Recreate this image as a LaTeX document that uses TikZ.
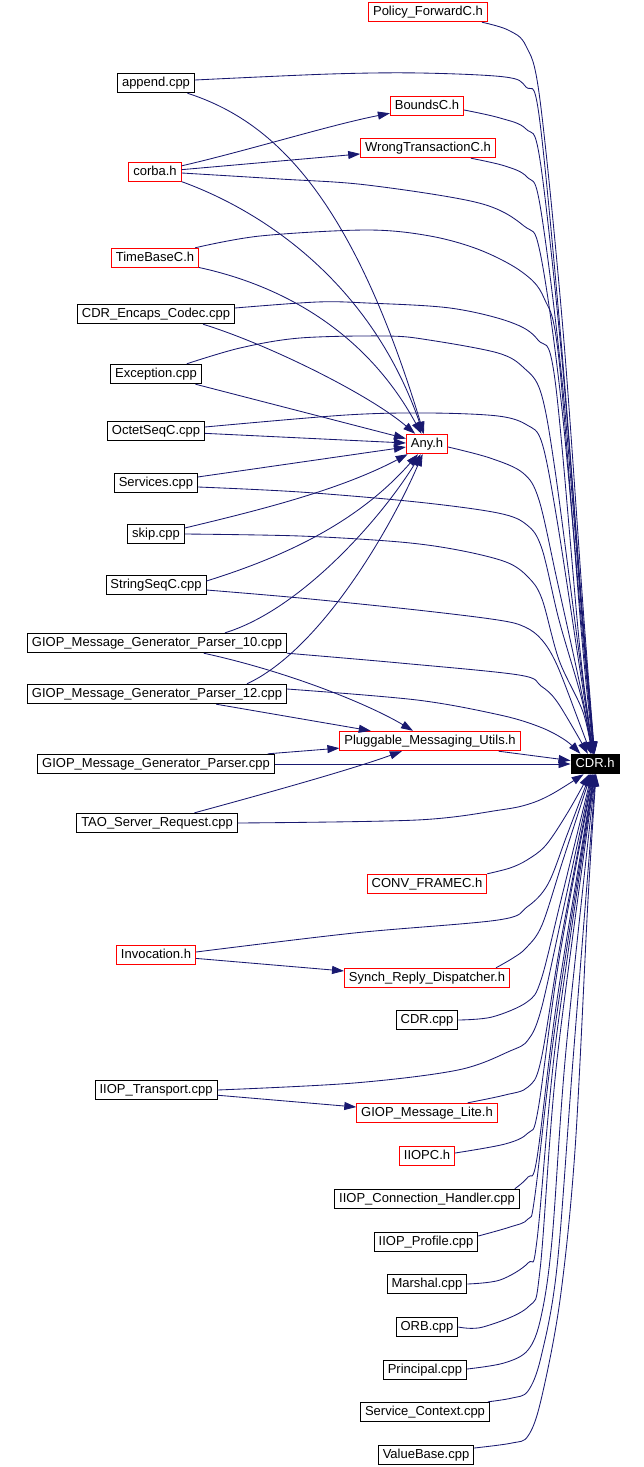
\documentclass[tikz,border=0pt]{standalone}
\usepackage{fontspec}
\setmainfont{Liberation Sans}
\usetikzlibrary{arrows.meta}
\definecolor{edgec}{HTML}{191970}
\begin{document}
\begin{tikzpicture}[x=1pt,y=-1pt,
  box/.style={draw, line width=0.9pt, fill=white, font=\fontsize{13}{15}\selectfont,
    inner xsep=4.5pt, inner ysep=0pt, minimum height=19.5pt, text height=9.6pt, text depth=2.7pt},
  nb/.style={box, draw=black},
  nr/.style={box, draw=red},
  nc/.style={box, draw=black, fill=black, text=white},
  e/.style={draw=edgec, line width=0.85pt, -{Triangle[length=12pt,width=8pt]}},
  sm/.style={smooth, tension=0.55}
  ]
\useasboundingbox (0,0) rectangle (644,1467);

% nodes
\node[nr] (pol) at (428,12) {Policy\_ForwardC.h};
\node[nb] (app) at (156,83) {append.cpp};
\node[nr] (bnd) at (427,106) {BoundsC.h};
\node[nr] (wrg) at (428,148) {WrongTransactionC.h};
\node[nr] (cor) at (155,172) {corba.h};
\node[nr] (tim) at (155,258) {TimeBaseC.h};
\node[nb] (cec) at (156,314) {CDR\_Encaps\_Codec.cpp};
\node[nb] (exc) at (156,374) {Exception.cpp};
\node[nb] (oct) at (156,431) {OctetSeqC.cpp};
\node[nr] (any) at (427,444) {Any.h};
\node[nb] (ser) at (156,483) {Services.cpp};
\node[nb] (skp) at (156,534) {skip.cpp};
\node[nb] (sts) at (156,585) {StringSeqC.cpp};
\node[nb] (g10) at (157,643) {GIOP\_Message\_Generator\_Parser\_10.cpp};
\node[nb] (g12) at (157,694) {GIOP\_Message\_Generator\_Parser\_12.cpp};
\node[nr] (plg) at (430,741) {Pluggable\_Messaging\_Utils.h};
\node[nb] (gmp) at (156,764) {GIOP\_Message\_Generator\_Parser.cpp};
\node[nc] (cdr) at (595,764) {CDR.h};
\node[nb] (tao) at (157,823) {TAO\_Server\_Request.cpp};
\node[nr] (cnv) at (427,884) {CONV\_FRAMEC.h};
\node[nr] (inv) at (156,955) {Invocation.h};
\node[nr] (syn) at (427,978) {Synch\_Reply\_Dispatcher.h};
\node[nb] (ccp) at (427,1020) {CDR.cpp};
\node[nb] (iit) at (156,1090) {IIOP\_Transport.cpp};
\node[nr] (gml) at (427,1113) {GIOP\_Message\_Lite.h};
\node[nr] (iic) at (427,1156) {IIOPC.h};
\node[nb] (ich) at (427,1199) {IIOP\_Connection\_Handler.cpp};
\node[nb] (ipr) at (426,1242) {IIOP\_Profile.cpp};
\node[nb] (mar) at (427,1284) {Marshal.cpp};
\node[nb] (orb) at (427,1327) {ORB.cpp};
\node[nb] (pri) at (425,1370) {Principal.cpp};
\node[nb] (sct) at (425,1412) {Service\_Context.cpp};
\node[nb] (vbs) at (426,1455) {ValueBase.cpp};

% edge start points
\coordinate (pol-o) at ([xshift=-6pt]pol.south east);
\coordinate (app-o) at ([yshift=3pt]app.east);
\coordinate (bnd-o) at ([yshift=-4pt]bnd.east);
\coordinate (wrg-o) at ([xshift=-25pt]wrg.south east);
\coordinate (cor-o) at ([yshift=-1pt]cor.east);
\coordinate (tim-o) at ([xshift=-4pt]tim.north east);
\coordinate (cec-o) at ([yshift=6pt]cec.east);
\coordinate (cec-a) at ([xshift=-32pt]cec.south east);
\coordinate (exc-o) at ([xshift=-15pt]exc.north east);
\coordinate (oct-o) at ([yshift=4pt]oct.east);
\coordinate (any-o) at ([yshift=-3pt]any.east);
\coordinate (ser-o) at ([yshift=-4pt]ser.east);
\coordinate (skp-a) at ([yshift=6pt]skp.east);
\coordinate (sts-o) at ([yshift=-5pt]sts.east);
\coordinate (sts-a) at ([yshift=4pt]sts.east);
\coordinate (g10-a) at ([xshift=-62pt]g10.north east);
\coordinate (g12-o) at ([yshift=5pt]g12.east);
\coordinate (g12-a) at ([xshift=-40pt]g12.north east);
\coordinate (plg-o) at ([xshift=-22pt]plg.south east);
\coordinate (gmp-p) at ([xshift=-7pt]gmp.north east);
\coordinate (inv-o) at ([yshift=3pt]inv.east);
\coordinate (syn-o) at ([xshift=-14pt]syn.north east);
\coordinate (gml-o) at ([xshift=-30pt]gml.north east);
\coordinate (iic-o) at ([yshift=3pt]iic.east);
\coordinate (ich-o) at ([xshift=-5pt]ich.north east);
\coordinate (ipr-o) at ([yshift=6pt]ipr.east);
\coordinate (pri-o) at ([yshift=1pt]pri.east);
\coordinate (sct-o) at ([xshift=-2pt]sct.north east);
\coordinate (vbs-o) at ([yshift=7pt]vbs.east);

% edges into CDR.h from above
\draw[e] plot[sm] coordinates {(pol-o) (508,30) (526,46) (540,100) (563,330) (584,620) (cdr.92)};
\draw[e] plot[sm] coordinates {(app-o) (330,74) (420,73) (505,77) (526,87) (539,115) (561,340) (583,620) (cdr.93)};
\draw[e] plot[sm] coordinates {(bnd-o) (500,118) (526,129) (540,160) (562,360) (583,625) (cdr.94)};
\draw[e] plot[sm] coordinates {(wrg-o) (505,166) (527,177) (540,205) (562,380) (583,630) (cdr.95)};
\draw[e] plot[sm] coordinates {(cor-o) (280,179) (367,185) (479,203) (524,226) (540,252) (561,400) (583,640) (cdr.96)};
\draw[e] plot[sm] coordinates {(tim-o) (260,236) (367,230) (430,236) (480,250) (522,272) (544,298) (559,360) (582,640) (cdr.97)};
\draw[e] plot[sm] coordinates {(cec-o) (317,302) (367,303) (450,308) (510,322) (538,340) (555,380) (580,650) (cdr.98)};
\draw[e] plot[sm] coordinates {(exc-o) (240,348) (300,338) (387,336) (429,340) (498,353) (524,368) (541,393) (555,470) (580,660) (cdr.99)};
\draw[e] plot[sm] coordinates {(oct-o) (346,415) (429,413) (498,416) (527,425) (542,443) (557,520) (580,670) (cdr.100)};
\draw[e] plot[sm] coordinates {(any-o) (490,458) (523,473) (539,500) (557,580) (581,690) (cdr.102)};
\draw[e] plot[sm] coordinates {(ser-o) (300,492) (417,502) (498,513) (527,525) (542,549) (559,620) (582,700) (cdr.104)};
\draw[e] plot[sm] coordinates {(skp.east) (300,536) (400,542) (458,550) (506,562) (528,577) (542,599) (559,660) (583,712) (cdr.107)};
\draw[e] plot[sm] coordinates {(sts-o) (300,598) (417,610) (498,620) (525,627) (542,640) (557,665) (579,722) (cdr.112)};
\draw[e] plot[sm] coordinates {(g10.south east) (400,663) (519,675) (541,686) (558,703) (cdr.125)};
\draw[e] plot[sm] coordinates {(g12-o) (417,700) (500,715) (540,727) (565,740) (cdr.145)};
\draw[e] (plg-o) -- (cdr.172);
\draw[e] (gmp.east) -- (cdr.west);
\draw[e] plot[sm] coordinates {(tao.east) (417,820) (500,810) (529,804) (552,794) (cdr.222)};

% edges into CDR.h from below
\draw[e] plot[sm] coordinates {(cnv.north east) (510,868) (527,860) (546,845) (568,812) (cdr.240)};
\draw[e] plot[sm] coordinates {(inv-o) (354,933) (498,920) (527,907) (548,884) (567,835) (cdr.244)};
\draw[e] plot[sm] coordinates {(syn-o) (513,958) (526,948) (542,925) (563,860) (cdr.248)};
\draw[e] plot[sm] coordinates {(ccp.east) (492,1017) (527,1002) (541,980) (561,900) (cdr.252)};
\draw[e] plot[sm] coordinates {(iit.east) (354,1083) (458,1070) (510,1051) (528,1040) (541,1010) (561,920) (cdr.255)};
\draw[e] plot[sm] coordinates {(gml-o) (505,1095) (528,1087) (541,1060) (561,940) (cdr.258)};
\draw[e] plot[sm] coordinates {(iic-o) (505,1144) (528,1133) (538,1110) (559,960) (cdr.261)};
\draw[e] plot[sm] coordinates {(ich-o) (528,1177) (537,1158) (557,1000) (cdr.264)};
\draw[e] plot[sm] coordinates {(ipr-o) (510,1227) (528,1219) (535,1195) (556,1020) (cdr.266)};
\draw[e] plot[sm] coordinates {(mar.east) (500,1280) (528,1263) (537,1240) (556,1040) (cdr.268)};
\draw[e] plot[sm] coordinates {(orb.east) (483,1327) (528,1307) (540,1270) (557,1060) (cdr.270)};
\draw[e] plot[sm] coordinates {(pri-o) (504,1363) (528,1350) (541,1317) (552,1240) (566,1050) (cdr.272)};
\draw[e] plot[sm] coordinates {(sct-o) (512,1398) (528,1391) (541,1357) (557,1267) (573,1060) (cdr.274)};
\draw[e] plot[sm] coordinates {(vbs-o) (512,1443) (528,1436) (541,1400) (560,1300) (575,1150) (588,900) (cdr.276)};

% edges into Any.h
\draw[e] (app) .. controls (270,120) and (350,190) .. (any);
\draw[e] (cor) .. controls (260,210) and (370,280) .. (any);
\draw[e] (tim) .. controls (280,285) and (365,330) .. (any);
\draw[e] (cec-a) .. controls (270,345) and (370,395) .. (any);
\draw[e] (exc) -- (any);
\draw[e] (oct) -- (any);
\draw[e] (ser) -- (any);
\draw[e] (skp-a) .. controls (260,510) and (340,490) .. (any);
\draw[e] (sts-a) .. controls (290,555) and (360,520) .. (any);
\draw[e] (g10-a) .. controls (300,610) and (380,520) .. (any);
\draw[e] (g12-a) .. controls (320,650) and (390,530) .. (any);

% edges into Pluggable_Messaging_Utils.h
\draw[e] (g10) .. controls (290,672) and (370,705) .. (plg);
\draw[e] (g12) -- (plg);
\draw[e] (gmp-p) -- (plg);
\draw[e] (tao) .. controls (260,795) and (350,770) .. (plg);

% other edges
\draw[e] (cor) .. controls (250,150) and (330,125) .. (bnd);
\draw[e] (cor) -- (wrg);
\draw[e] (inv) -- (syn);
\draw[e] (iit) -- (gml);
\end{tikzpicture}
\end{document}
